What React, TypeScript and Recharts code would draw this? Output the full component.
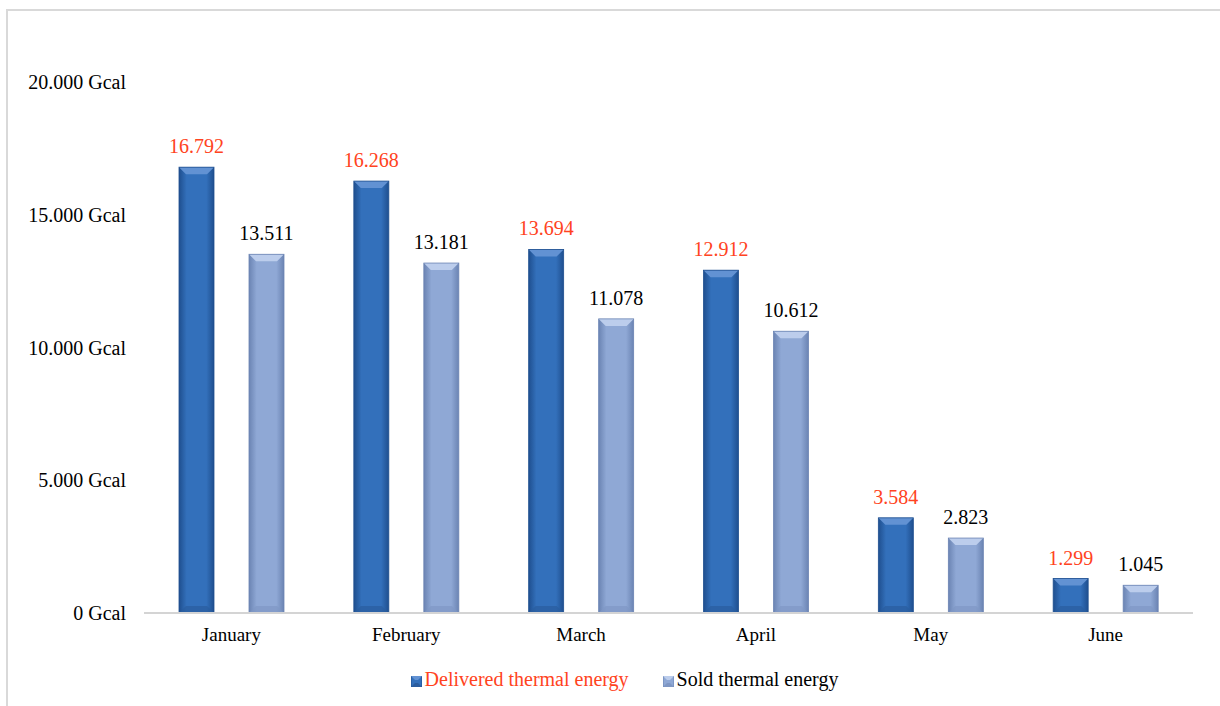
import React from "react";
import { BarChart, Bar, XAxis, YAxis, Legend, LabelList } from "recharts";

const months = ["January", "February", "March", "April", "May", "June"];
const delivered = [16792, 16268, 13694, 12912, 3584, 1299];
const sold = [13511, 13181, 11078, 10612, 2823, 1045];
const yTicks = [0, 5000, 10000, 15000, 20000];

const data = months.map((month, i) => ({
  month,
  delivered: delivered[i],
  sold: sold[i],
}));

const FONT = "'Liberation Serif', 'Times New Roman', serif";
const RED = "#ff4321";

// 5000 -> "5.000"
const dots = (v: number) => String(v).replace(/\B(?=(\d{3})+(?!\d))/g, ".");

const palettes: Record<string, any> = {
  dark: { id: "gDark", edge: "#1f4f8f", mid: "#3370bb", top: "#6292d3", bottom: "#2a5c9e", side: "#2b62a8" },
  light: { id: "gLight", edge: "#6b84b3", mid: "#8fa8d5", top: "#bccdec", bottom: "#7f97c4", side: "#8198c7" },
};

const BevelBar = (kind: string) => (props: any) => {
  const { x, y, width: w, height: h } = props;
  if (!h || h <= 0) return null;
  const p = palettes[kind];
  const b = Math.min(7, h / 3);
  return (
    <g>
      <rect x={x} y={y} width={w} height={h} fill={`url(#${p.id})`} />
      <polygon points={`${x},${y} ${x + w},${y} ${x + w - b},${y + b} ${x + b},${y + b}`} fill={p.top} />
      <polygon points={`${x},${y + h} ${x + b},${y + h - b} ${x + w - b},${y + h - b} ${x + w},${y + h}`} fill={p.bottom} opacity={0.7} />
      <rect x={x} y={y} width={w} height={h} fill="none" stroke={p.edge} strokeWidth={0.8} />
    </g>
  );
};

const LegendIcon = ({ kind }: { kind: string }) => {
  const p = palettes[kind];
  return (
    <svg width={11} height={11} style={{ marginRight: 3, verticalAlign: "-1px" }}>
      <rect x={0} y={0} width={11} height={11} fill={p.mid} stroke={p.edge} strokeWidth={1} />
      <polygon points="0,0 11,0 7,4 4,4" fill={p.top} />
      <polygon points="0,11 4,7 7,7 11,11" fill={p.bottom} />
    </svg>
  );
};

const renderLegend = () => (
  <div
    style={{
      height: 40,
      display: "flex",
      justifyContent: "center",
      alignItems: "flex-start",
      paddingTop: 2,
      boxSizing: "border-box",
      fontFamily: FONT,
      fontSize: 20,
      lineHeight: "22px",
      paddingLeft: 56,
    }}
  >
    <span style={{ color: RED, marginRight: 34 }}>
      <LegendIcon kind="dark" />
      Delivered thermal energy
    </span>
    <span style={{ color: "#000" }}>
      <LegendIcon kind="light" />
      Sold thermal energy
    </span>
  </div>
);

export default function App() {
  return (
    <div style={{ position: "absolute", left: 0, top: 0, width: 1220, height: 706, background: "#fff", overflow: "hidden" }}>
      <div
        style={{
          position: "absolute",
          left: 6,
          top: 9,
          width: 1230,
          height: 720,
          border: "2px solid #d9d9d9",
          boxSizing: "border-box",
        }}
      />
      <div style={{ position: "absolute", left: 0, top: 0 }}>
        <BarChart
          width={1220}
          height={706}
          data={data}
          margin={{ top: 82, right: 27, left: 0, bottom: 0 }}
          barSize={35}
          barGap={35}
        >
          <defs>
            {Object.values(palettes).map((p: any) => (
              <linearGradient key={p.id} id={p.id} x1="0" y1="0" x2="1" y2="0">
                <stop offset="0%" stopColor={p.edge} />
                <stop offset="22%" stopColor={p.mid} />
                <stop offset="78%" stopColor={p.mid} />
                <stop offset="100%" stopColor={p.edge} />
              </linearGradient>
            ))}
          </defs>
          <XAxis
            dataKey="month"
            height={53}
            axisLine={{ stroke: "#d4d4d4", strokeWidth: 2 }}
            tickLine={false}
            tickMargin={9}
            tick={{ fill: "#000", fontFamily: FONT, fontSize: 19 }}
          />
          <YAxis
            width={144}
            domain={[0, 20000]}
            ticks={yTicks}
            axisLine={false}
            tickLine={false}
            tickMargin={12}
            tickFormatter={(v: number) => `${dots(v)} Gcal`}
            tick={{ fill: "#000", fontFamily: FONT, fontSize: 20 }}
          />
          <Legend verticalAlign="bottom" content={renderLegend} />
          <Bar dataKey="delivered" name="Delivered thermal energy" shape={BevelBar("dark")} isAnimationActive={false}>
            <LabelList
              dataKey="delivered"
              position="top"
              offset={14}
              formatter={(v: any) => dots(v)}
              style={{ fill: RED, fontFamily: FONT, fontSize: 20 }}
            />
          </Bar>
          <Bar dataKey="sold" name="Sold thermal energy" shape={BevelBar("light")} isAnimationActive={false}>
            <LabelList
              dataKey="sold"
              position="top"
              offset={14}
              formatter={(v: any) => dots(v)}
              style={{ fill: "#000", fontFamily: FONT, fontSize: 20 }}
            />
          </Bar>
        </BarChart>
      </div>
    </div>
  );
}
